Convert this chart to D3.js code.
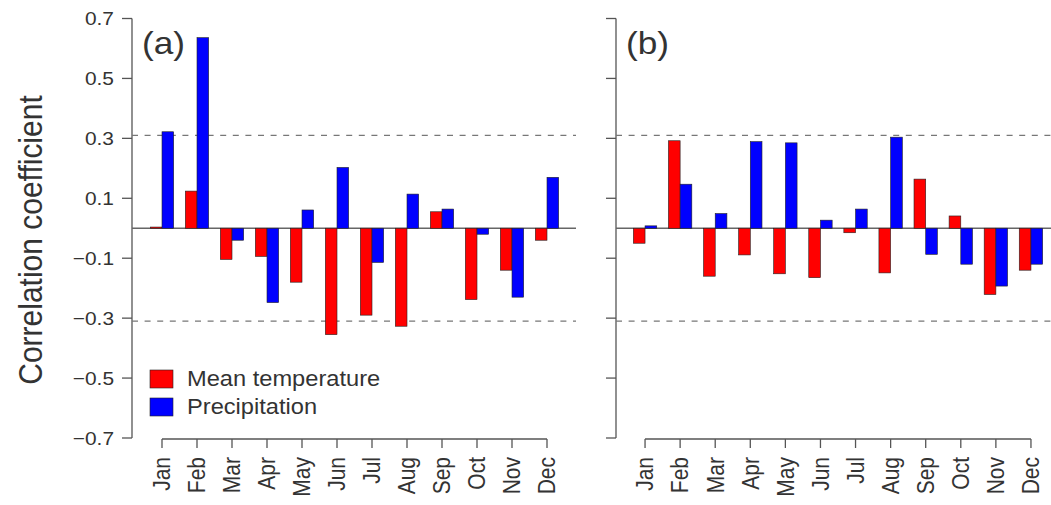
<!DOCTYPE html>
<html>
<head>
<meta charset="utf-8">
<script src="https://cdn.jsdelivr.net/npm/d3@7"></script>
<style>
  body { margin: 0; background: #fff; }
  svg { display: block; font-family: "Liberation Sans", Arial, sans-serif; }
</style>
</head>
<body>
<svg id="chart" width="1051" height="505"></svg>
<script>
// values
const months = ["Jan", "Feb", "Mar", "Apr", "May", "Jun", "Jul", "Aug", "Sep", "Oct", "Nov", "Dec"];
const series = ["temp", "prec"];
const seriesNames = ["Mean temperature", "Precipitation"];
const seriesColors = ["#ff0000", "#0000ff"];

const tempA = [0.004, 0.124, -0.104, -0.094, -0.18, -0.355, -0.29, -0.327, 0.055, -0.238, -0.14, -0.04];
const precA = [0.322, 0.636, -0.04, -0.248, 0.061, 0.203, -0.114, 0.114, 0.064, -0.02, -0.23, 0.17];
const tempB = [-0.05, 0.292, -0.16, -0.089, -0.152, -0.165, -0.015, -0.149, 0.164, 0.041, -0.221, -0.14];
const precB = [0.008, 0.147, 0.049, 0.289, 0.285, 0.027, 0.064, 0.304, -0.087, -0.12, -0.193, -0.12];

const yTicks = [-0.7, -0.5, -0.3, -0.1, 0.1, 0.3, 0.5, 0.7];
const threshold = 0.31; // significance level (dashed)

const SX = 1.1; // the original picture is slightly stretched sideways
const textCol = "#333";
const axisCol = "#555";

const svg = d3.select("#chart");

const y = d3.scaleLinear().domain([-0.7, 0.7]).range([438, 18.5]);

const fmt = d => (d < 0 ? "\u2212" : "") + Math.abs(d).toFixed(1);

function panel(opts) {
  const g = svg.append("g");
  const x = d3.scaleBand()
    .domain(months)
    .range(opts.xRange)
    .paddingInner(1 / 3)
    .paddingOuter(1 / 6);
  const xs = d3.scaleBand().domain(series).range([0, x.bandwidth()]);

  // y axis, R style: line from first to last tick
  g.append("line")
    .attr("x1", opts.axisX).attr("x2", opts.axisX)
    .attr("y1", y(0.7)).attr("y2", y(-0.7))
    .attr("stroke", axisCol).attr("stroke-width", 1.3);
  g.selectAll(".ytick").data(yTicks).enter().append("line")
    .attr("x1", opts.axisX - 10).attr("x2", opts.axisX)
    .attr("y1", d => y(d)).attr("y2", d => y(d))
    .attr("stroke", axisCol).attr("stroke-width", 1.3);
  if (opts.labels) {
    g.selectAll(".ylab").data(yTicks).enter().append("text")
      .attr("transform", d => `translate(${opts.axisX - 18},${y(d)}) scale(${SX},1)`)
      .attr("text-anchor", "end")
      .attr("dy", "0.36em")
      .attr("font-size", 19)
      .attr("fill", textCol)
      .text(fmt);
  }

  // reference lines
  g.append("line")
    .attr("x1", opts.axisX).attr("x2", opts.lineEnd)
    .attr("y1", y(0)).attr("y2", y(0))
    .attr("stroke", "#666").attr("stroke-width", 1.3);
  [threshold, -threshold].forEach(t => {
    g.append("line")
      .attr("x1", opts.axisX).attr("x2", opts.lineEnd)
      .attr("y1", y(t)).attr("y2", y(t))
      .attr("stroke", "#777").attr("stroke-width", 1.3)
      .attr("stroke-dasharray", "6,6.6");
  });

  // bars
  const rows = months.map((m, i) => ({ month: m, temp: opts.temp[i], prec: opts.prec[i] }));
  const grp = g.selectAll(".grp").data(rows).enter().append("g")
    .attr("transform", d => `translate(${x(d.month)},0)`);
  grp.selectAll("rect")
    .data(d => series.map((s, k) => ({ key: s, value: d[s], color: seriesColors[k] })))
    .enter().append("rect")
    .attr("x", d => xs(d.key))
    .attr("width", xs.bandwidth())
    .attr("y", d => y(Math.max(0, d.value)))
    .attr("height", d => Math.abs(y(d.value) - y(0)))
    .attr("fill", d => d.color)
    .attr("stroke", "#222")
    .attr("stroke-width", 0.6);

  // x axis
  const ticksX = months.map(m => x(m) + x.bandwidth() / 2);
  g.append("line")
    .attr("x1", ticksX[0]).attr("x2", ticksX[ticksX.length - 1])
    .attr("y1", 439).attr("y2", 439)
    .attr("stroke", axisCol).attr("stroke-width", 1.3);
  g.selectAll(".xtick").data(months).enter().append("line")
    .attr("x1", d => x(d) + x.bandwidth() / 2).attr("x2", d => x(d) + x.bandwidth() / 2)
    .attr("y1", 439).attr("y2", 448)
    .attr("stroke", axisCol).attr("stroke-width", 1.3);
  g.selectAll(".xlab").data(months).enter().append("text")
    .attr("transform", d => `translate(${x(d) + x.bandwidth() / 2},457) scale(${SX},1) rotate(-90)`)
    .attr("text-anchor", "end")
    .attr("dy", "0.36em")
    .attr("font-size", 21)
    .attr("fill", textCol)
    .text(d => d);

  // panel letter
  g.append("text")
    .attr("transform", `translate(${opts.axisX + 10},54) scale(${SX},1)`)
    .attr("font-size", 32)
    .attr("fill", textCol)
    .text(opts.letter);

  return g;
}

panel({ letter: "(a)", axisX: 132, xRange: [144.5, 564.5], lineEnd: 576, labels: true, temp: tempA, prec: precA });
panel({ letter: "(b)", axisX: 616, xRange: [627.5, 1048.5], lineEnd: 1051, labels: false, temp: tempB, prec: precB });

// y title
svg.append("text")
  .attr("transform", `translate(42,240) scale(${SX},1) rotate(-90)`)
  .attr("text-anchor", "middle")
  .attr("font-size", 30)
  .attr("fill", textCol)
  .text("Correlation coefficient");

// legend
const legend = svg.append("g");
seriesNames.forEach((name, i) => {
  legend.append("rect")
    .attr("x", 150).attr("y", 370 + i * 28)
    .attr("width", 23).attr("height", 18)
    .attr("fill", seriesColors[i])
    .attr("stroke", "#222").attr("stroke-width", 0.6);
  legend.append("text")
    .attr("transform", `translate(187,${386 + i * 28}) scale(${SX},1)`)
    .attr("font-size", 21.5)
    .attr("fill", textCol)
    .text(name);
});
</script>
</body>
</html>
